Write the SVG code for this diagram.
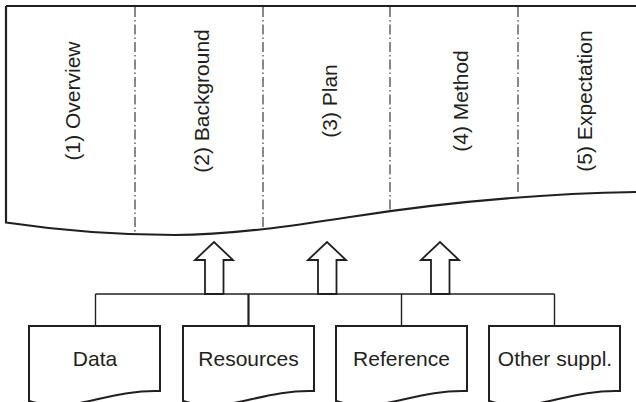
<svg xmlns="http://www.w3.org/2000/svg" width="636" height="402" viewBox="0 0 636 402">
  <style>
    .frame { fill: none; stroke: #231f20; stroke-width: 2.2; }
    .divider { fill: none; stroke: #3a3a3a; stroke-width: 1.2; stroke-dasharray: 10 3 1.5 3; }
    .label { font-family: "Liberation Sans", Arial, sans-serif; font-size: 21px; fill: #231f20; text-anchor: middle; }
    .wire { fill: none; stroke: #231f20; stroke-width: 1.4; }
    .arrow { fill: #ffffff; stroke: #231f20; stroke-width: 1.8; stroke-linejoin: miter; }
    .doc { fill: #ffffff; stroke: #231f20; stroke-width: 2; }
  </style>

  <rect width="636" height="402" fill="#ffffff"/>

  <!-- Proposal sheet with wavy lower edge -->
  <g id="sheet">
    <path class="frame" d="M6,6 H636 M6,6 V222.5 C60,230.5 120,235 175,235 C230,235 295,225.6 350,217 C420,206 520,194 636,192"/>
    <line class="divider" x1="135" y1="7" x2="135" y2="233"/>
    <line class="divider" x1="263" y1="7" x2="263" y2="229"/>
    <line class="divider" x1="390" y1="7" x2="390" y2="211"/>
    <line class="divider" x1="518" y1="7" x2="518" y2="195"/>
  </g>

  <g id="sec-overview">
    <text class="label" transform="translate(79.5,101) rotate(-90)">(1) Overview</text>
  </g>
  <g id="sec-background">
    <text class="label" transform="translate(208.5,101) rotate(-90)">(2) Background</text>
  </g>
  <g id="sec-plan">
    <text class="label" transform="translate(336.7,101) rotate(-90)">(3) Plan</text>
  </g>
  <g id="sec-method">
    <text class="label" transform="translate(468.3,101) rotate(-90)">(4) Method</text>
  </g>
  <g id="sec-expectation">
    <text class="label" transform="translate(591.7,101) rotate(-90)">(5) Expectation</text>
  </g>

  <!-- Connectors: collecting bus, drops and upward block arrows -->
  <g id="connectors">
    <line class="wire" x1="95.5" y1="294" x2="554.5" y2="294"/>
    <line class="wire" x1="95.5" y1="294" x2="95.5" y2="326"/>
    <line class="wire" x1="248.5" y1="294" x2="248.5" y2="326" style="stroke-width:2.2"/>
    <line class="wire" x1="401.5" y1="294" x2="401.5" y2="326"/>
    <line class="wire" x1="554.5" y1="294" x2="554.5" y2="326"/>
    <path class="arrow" d="M205,294 V260 H195 L214,242 L233,260 H223.5 V294 Z"/>
    <path class="arrow" d="M318,294 V260 H308 L327,242 L346,260 H336.5 V294 Z"/>
    <path class="arrow" d="M431,294 V260 H421 L440,242 L459,260 H449.5 V294 Z"/>
  </g>

  <!-- Source documents -->
  <g id="doc-data">
    <path class="doc" d="M29,326 H160 V391 C130,390 105,398 80,403 C60,407 42,405 29,401 Z"/>
    <text class="label" x="95" y="366">Data</text>
  </g>
  <g id="doc-resources">
    <path class="doc" d="M183,326 H314 V391 C284,390 259,398 234,403 C214,407 196,405 183,401 Z"/>
    <text class="label" x="248.5" y="366">Resources</text>
  </g>
  <g id="doc-reference">
    <path class="doc" d="M336,326 H467 V391 C437,390 412,398 387,403 C367,407 349,405 336,401 Z"/>
    <text class="label" x="401.5" y="366">Reference</text>
  </g>
  <g id="doc-other">
    <path class="doc" d="M489,326 H620 V391 C590,390 565,398 540,403 C520,407 502,405 489,401 Z"/>
    <text class="label" x="555" y="366">Other suppl.</text>
  </g>
</svg>
